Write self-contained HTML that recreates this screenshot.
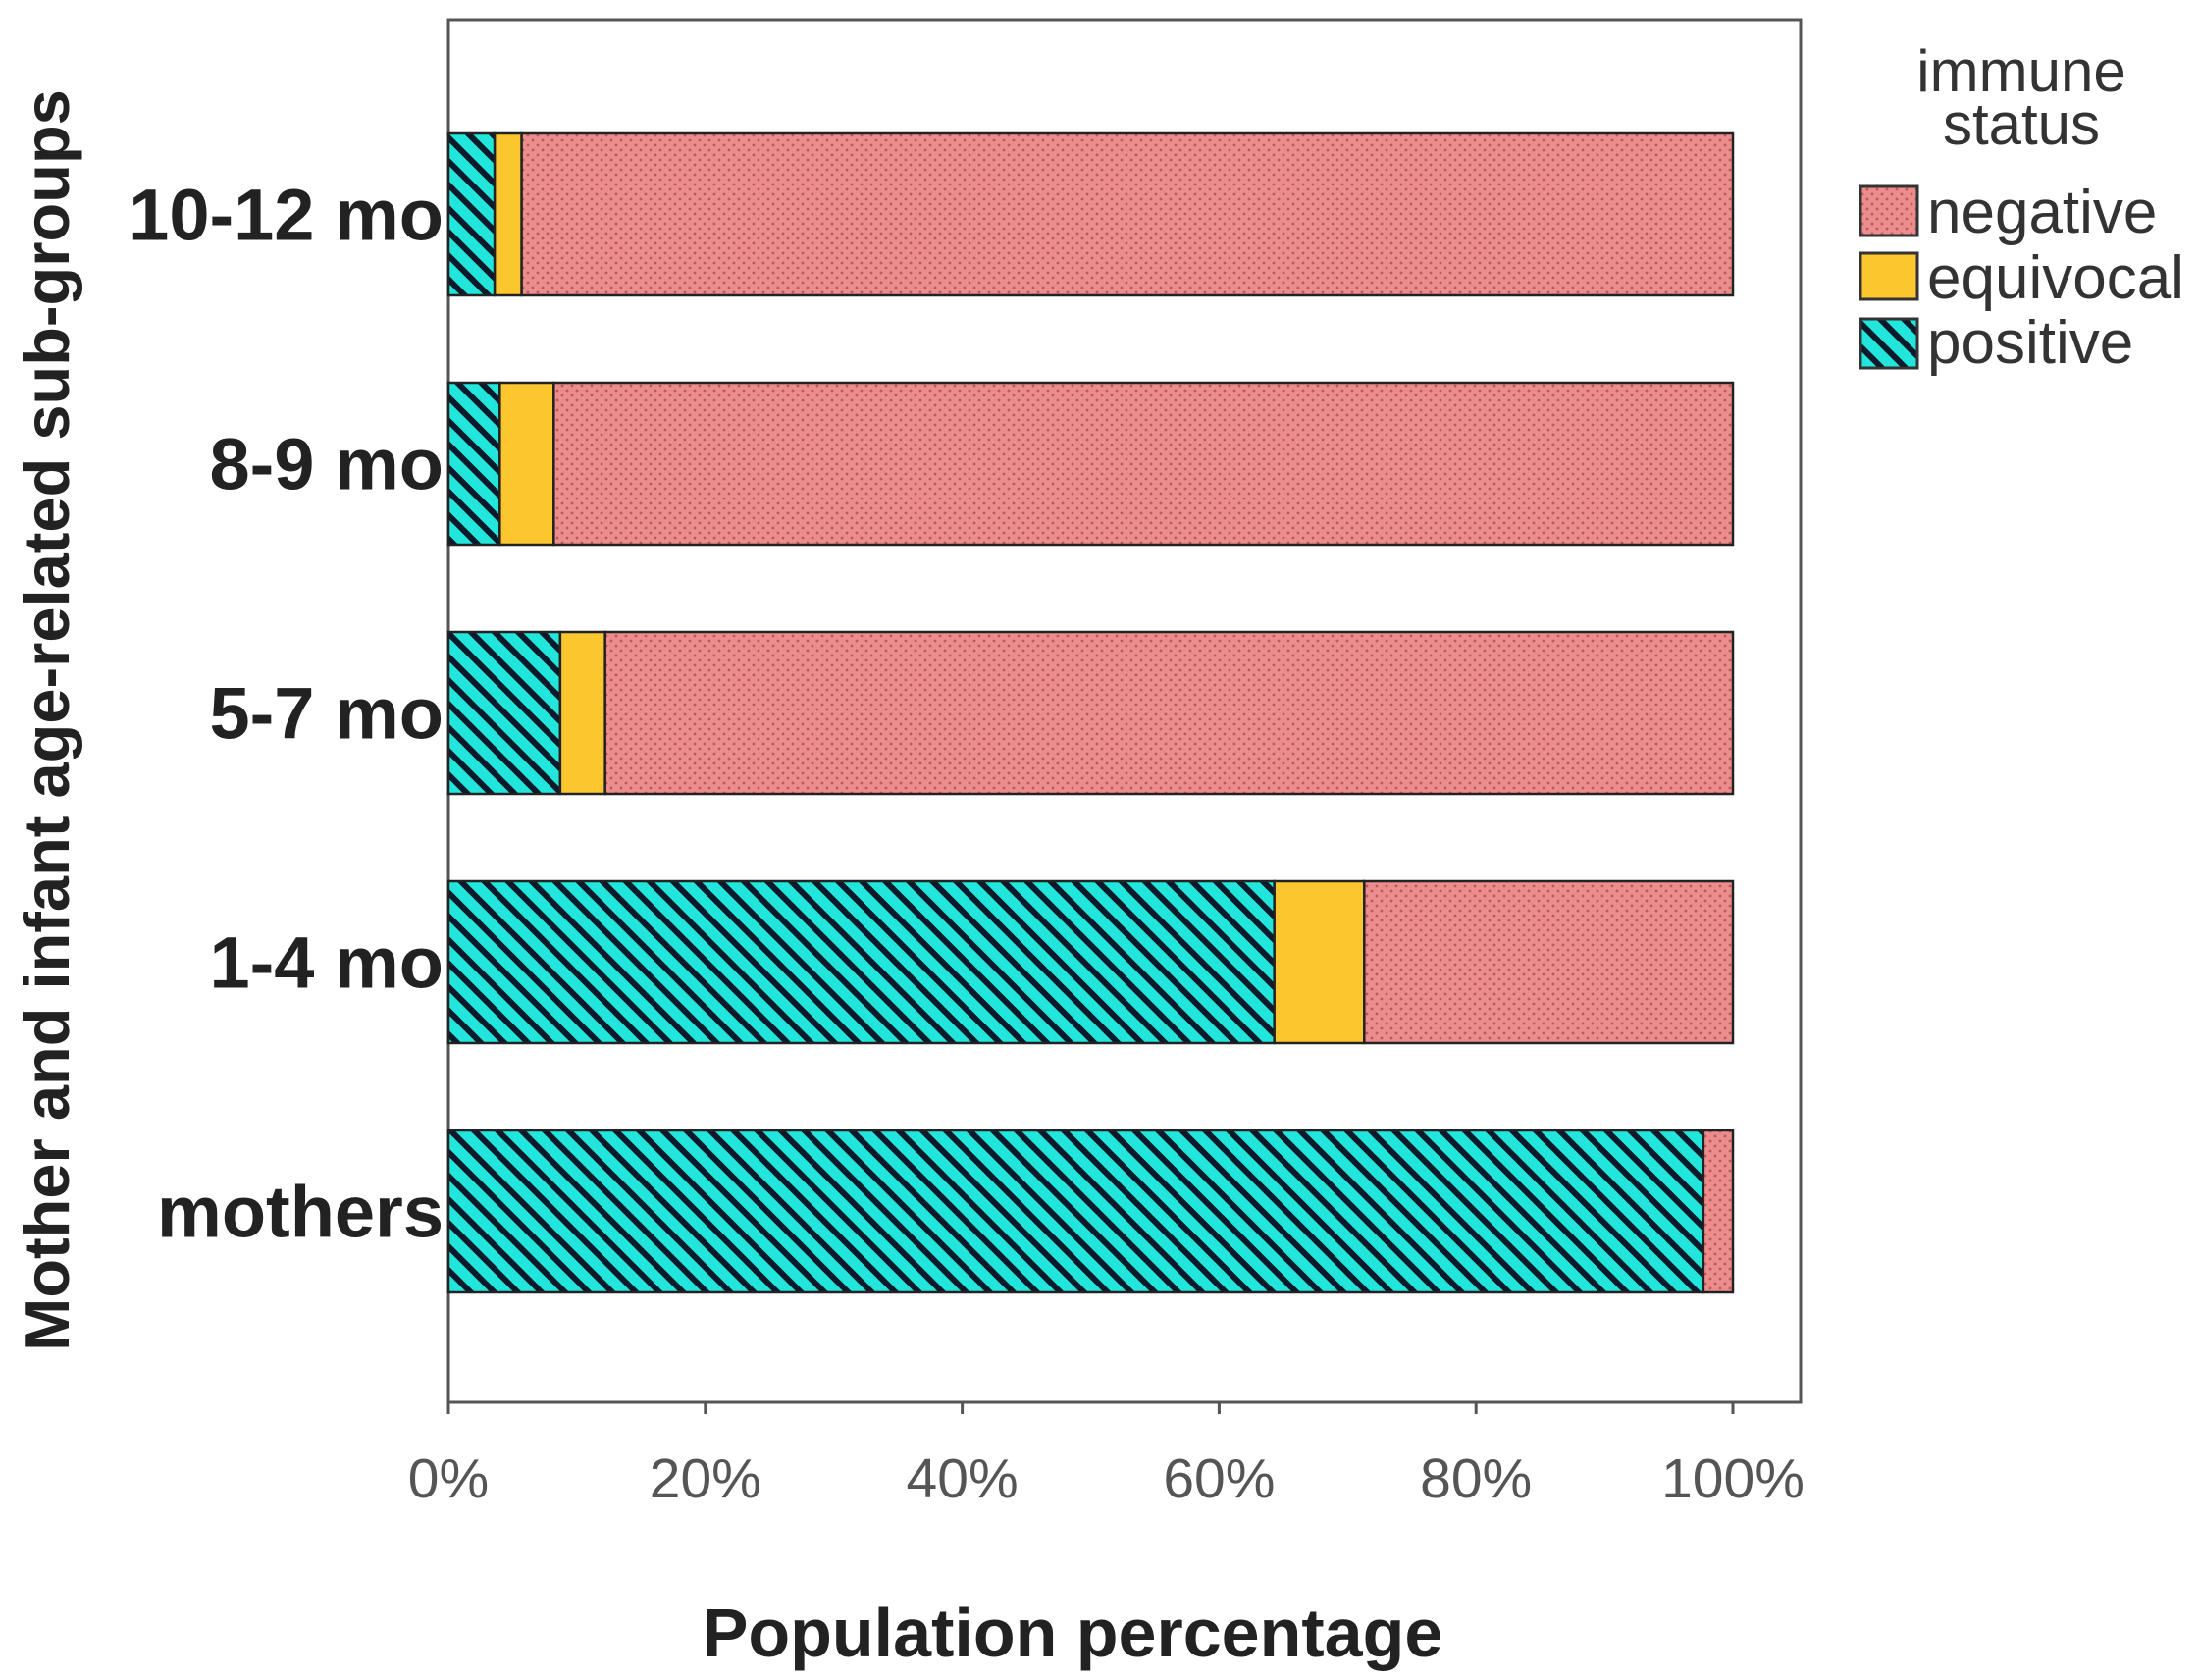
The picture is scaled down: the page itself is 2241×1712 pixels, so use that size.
<!DOCTYPE html>
<html><head><meta charset="utf-8"><style>
html,body{margin:0;padding:0;background:#fff}
svg{display:block;font-family:"Liberation Sans",sans-serif}
</style></head><body>
<svg id="chart" width="2241" height="1712" viewBox="0 0 2241 1712">
<defs>
<pattern id="pDots" width="10" height="10" patternUnits="userSpaceOnUse">
<rect width="10" height="10" fill="#ec8c8c"/><circle cx="3" cy="3" r="1.4" fill="#b85a5a"/><circle cx="8" cy="8" r="1.4" fill="#b85a5a"/>
</pattern>
<pattern id="pStripe" width="17" height="17" patternUnits="userSpaceOnUse" patternTransform="rotate(-45)">
<rect width="17" height="17" fill="#22e6dc"/><rect width="6" height="17" fill="#0a1a2a"/>
</pattern>
</defs>
<rect x="457" y="20" width="1378" height="1409" fill="#fff" stroke="#555" stroke-width="3"/>
<g id="bars"></g>
<g id="xticks"></g>
<g id="ylabels"></g>
<text x="1093" y="1688" font-size="70" font-weight="bold" fill="#222" text-anchor="middle">Population percentage</text>
<text transform="translate(70,734) rotate(-90)" font-size="65" font-weight="bold" fill="#222" text-anchor="middle">Mother and infant age-related sub-groups</text>
<g>
<text x="2060" y="93" font-size="60" fill="#333" text-anchor="middle">immune</text>
<text x="2060" y="147" font-size="60" fill="#333" text-anchor="middle">status</text>
<rect x="1896" y="190" width="58" height="50" fill="url(#pDots)" stroke="#333" stroke-width="3"/>
<text x="1964" y="237" font-size="62" fill="#333">negative</text>
<rect x="1896" y="258" width="58" height="47" fill="#fcc72e" stroke="#333" stroke-width="3"/>
<text x="1964" y="304" font-size="62" fill="#333">equivocal</text>
<rect x="1896" y="325" width="58" height="50" fill="url(#pStripe)" stroke="#333" stroke-width="3"/>
<text x="1964" y="370" font-size="62" fill="#333">positive</text>
</g>
</svg>
<script>
const categories = ["10-12 mo","8-9 mo","5-7 mo","1-4 mo","mothers"];
const positive = [3.6, 4.0, 8.7, 64.3, 97.7];
const equivocal = [2.1, 4.2, 3.5, 7.0, 0];
const negative = [94.3, 91.8, 87.8, 28.7, 2.3];
const xTicks = [0,20,40,60,80,100];
const xTickLabels = ["0%","20%","40%","60%","80%","100%"];

const NS="http://www.w3.org/2000/svg";
const x0=457, x1=1766;
const xs=v=>x0+(x1-x0)*v/100;
const bandTop=c=>136+c*254, bandH=165;
function mk(tag,attrs,parent){const e=document.createElementNS(NS,tag);for(const k in attrs)e.setAttribute(k,attrs[k]);parent.appendChild(e);return e;}
const gb=document.getElementById('bars');
categories.forEach((cat,i)=>{
  let acc=0;
  const segs=[[positive[i],'url(#pStripe)','positive'],[equivocal[i],'#fcc72e','equivocal'],[negative[i],'url(#pDots)','negative']];
  segs.forEach(s=>{
    if(s[0]<=0)return;
    const r=mk('rect',{x:xs(acc),y:bandTop(i),width:xs(acc+s[0])-xs(acc),height:bandH,fill:s[1],stroke:'#222','stroke-width':2.5},gb);
    
    
    acc+=s[0];
  });
  const t=mk('text',{x:452,y:bandTop(i)+bandH/2+26,'font-size':74,'font-weight':'bold',fill:'#222','text-anchor':'end'},document.getElementById('ylabels'));
  t.textContent=cat;
  
  
});
const gx=document.getElementById('xticks');
xTicks.forEach((v,i)=>{
  const l=mk('line',{x1:xs(v),x2:xs(v),y1:1429,y2:1441,stroke:'#555','stroke-width':3},gx);
  
  
  const t=mk('text',{x:xs(v),y:1526,'font-size':57,fill:'#555','text-anchor':'middle'},gx);
  t.textContent=xTickLabels[i];
  
  
});
</script>
</body></html>
